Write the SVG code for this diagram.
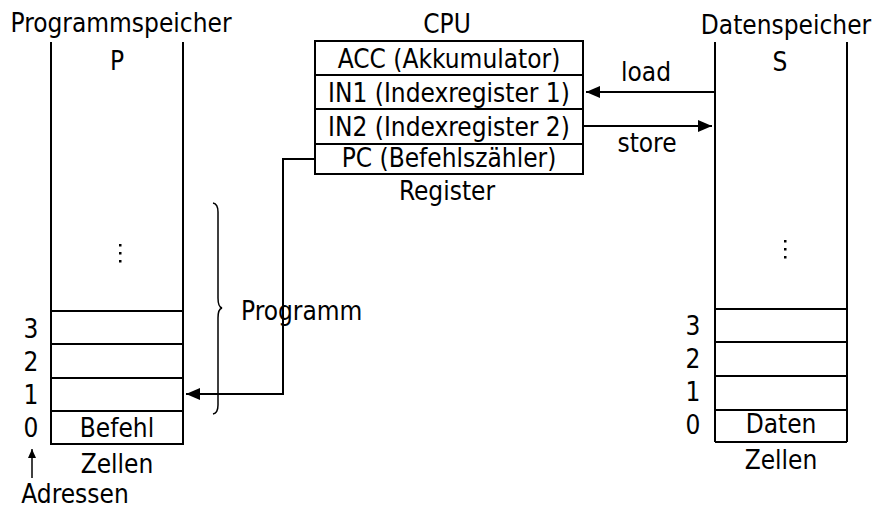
<svg xmlns="http://www.w3.org/2000/svg" width="875" height="512" viewBox="0 0 875 512">
<style>
text{font-family:"DejaVu Sans Condensed","DejaVu Sans",sans-serif;font-size:26px;fill:#000}
.c{text-anchor:middle}
.ln{stroke:#000;stroke-width:2;fill:none}
.dot{fill:#000}
</style>
<defs>
<marker id="ah" markerUnits="userSpaceOnUse" markerWidth="14" markerHeight="12" refX="14" refY="6" orient="auto">
<path d="M0,0 L14,6 L0,12 Z" fill="#000"/>
</marker>
<marker id="ahs" markerUnits="userSpaceOnUse" markerWidth="8" markerHeight="8" refX="9" refY="4" orient="auto">
<path d="M0,0 L9,4 L0,8 Z" fill="#000"/>
</marker>
</defs>
<rect width="875" height="512" fill="#fff"/>

<g id="programmspeicher">
<text class="c" x="121" y="32">Programmspeicher</text>
<text class="c" x="117" y="70">P</text>
<path class="ln" d="M51,42 V445 M183,42 V445 M51,311 H183 M51,344 H183 M51,378 H183 M51,411 H183 M51,444 H183"/>
<rect class="dot" x="119" y="244" width="2.5" height="2.5"/>
<rect class="dot" x="119" y="252" width="2.5" height="2.5"/>
<rect class="dot" x="119" y="260" width="2.5" height="2.5"/>
<text class="c" x="31" y="338">3</text>
<text class="c" x="31" y="371">2</text>
<text class="c" x="31" y="404">1</text>
<text class="c" x="31" y="437">0</text>
<text class="c" x="117" y="437">Befehl</text>
<text class="c" x="117" y="473">Zellen</text>
<text class="c" x="75" y="503">Adressen</text>
</g>

<g id="programm">
<path d="M213,203 Q218,204 218,212 V298 Q218,307 222,308 Q218,309 218,318 V405 Q218,413 213,414" stroke="#000" stroke-width="1.5" fill="none"/>
<text x="241" y="320">Programm</text>
</g>

<g id="cpu">
<text class="c" x="447" y="33">CPU</text>
<rect x="315" y="41" width="268" height="133" class="ln"/>
<path class="ln" d="M315,75 H583 M315,109 H583 M315,144 H583"/>
<text class="c" x="449" y="68">ACC (Akkumulator)</text>
<text class="c" x="449" y="102">IN1 (Indexregister 1)</text>
<text class="c" x="449" y="136">IN2 (Indexregister 2)</text>
<text class="c" x="449" y="167">PC (Befehlszähler)</text>
<text class="c" x="447" y="200">Register</text>
</g>

<g id="datenspeicher">
<text class="c" x="786" y="34">Datenspeicher</text>
<text class="c" x="780" y="71">S</text>
<path class="ln" d="M715,42 V442 M847,42 V442 M715,309 H847 M715,342 H847 M715,376 H847 M715,410 H847 M715,442 H847"/>
<rect class="dot" x="784" y="240" width="2.5" height="2.5"/>
<rect class="dot" x="784" y="248" width="2.5" height="2.5"/>
<rect class="dot" x="784" y="256" width="2.5" height="2.5"/>
<text class="c" x="693" y="335">3</text>
<text class="c" x="693" y="368">2</text>
<text class="c" x="693" y="401">1</text>
<text class="c" x="693" y="434">0</text>
<text class="c" x="781" y="433">Daten</text>
<text class="c" x="781" y="469">Zellen</text>
</g>

<g id="connectors">
<path class="ln" d="M714,92 H586" marker-end="url(#ah)"/>
<text class="c" x="646" y="81">load</text>
<path class="ln" d="M583,126 H712" marker-end="url(#ah)"/>
<text class="c" x="647" y="152">store</text>
<path class="ln" d="M315,159 H283 V394 H186" marker-end="url(#ah)"/>
<path d="M32,478 V449" stroke="#000" stroke-width="1.5" marker-end="url(#ahs)"/>
</g>
</svg>
